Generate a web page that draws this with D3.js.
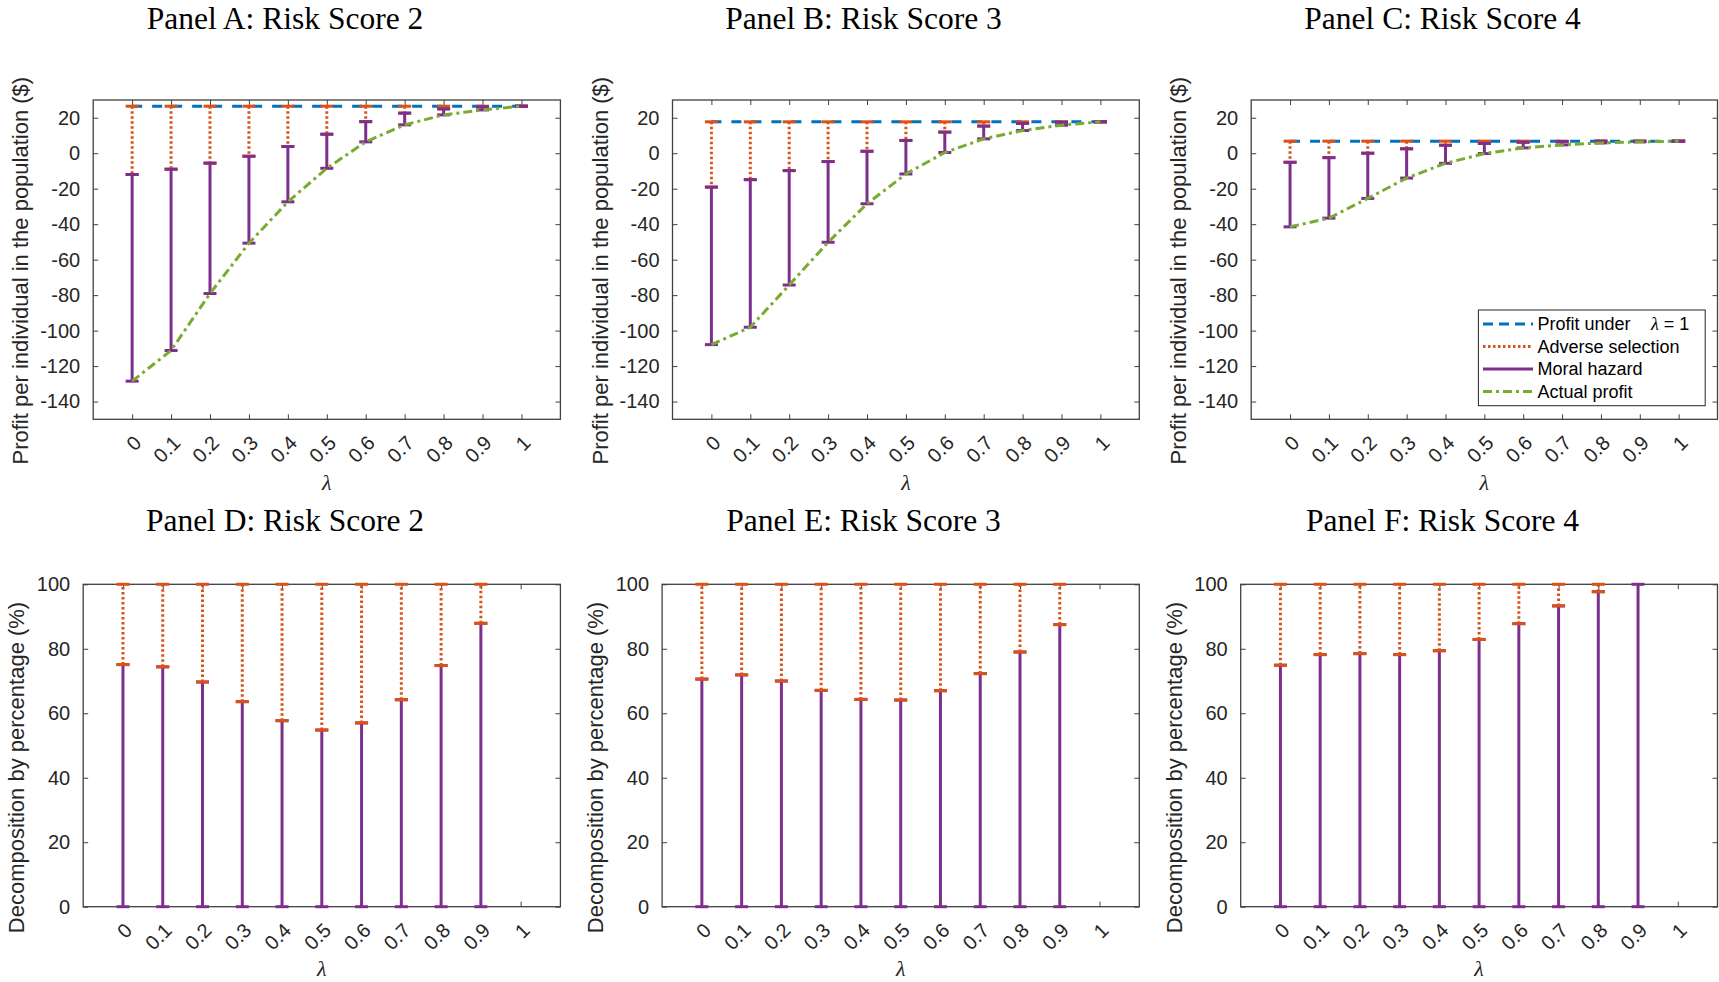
<!DOCTYPE html>
<html>
<head>
<meta charset="utf-8">
<script src="https://cdn.jsdelivr.net/npm/d3@7"></script>
<style>
  body { margin: 0; background: #fff; }
  text { font-family: "Liberation Sans", Arial, sans-serif; fill: #262626; }
  .title { font-family: "Liberation Serif", serif; font-size: 31.5px; fill: #000; }
  .axis-label { font-size: 22px; }
  .lam { font-family: "Liberation Serif", serif; font-style: italic; font-size: 22px; }
  .legend text { font-size: 18px; fill: #000; }
</style>
</head>
<body>
<svg id="chart" width="1719" height="982"></svg>
<script>
// ---- data ----
const lambdas = [0, 0.1, 0.2, 0.3, 0.4, 0.5, 0.6, 0.7, 0.8, 0.9, 1];
const lambdaLabels = ["0", "0.1", "0.2", "0.3", "0.4", "0.5", "0.6", "0.7", "0.8", "0.9", "1"];
const profitTicks = [-140, -120, -100, -80, -60, -40, -20, 0, 20];
const pctTicks = [0, 20, 40, 60, 80, 100];

// profit under lambda = 1 (top of adverse selection bar)
const fullProfitA = 26.5;
const fullProfitB = 17.7;
const fullProfitC = 6.8;
// where adverse selection ends / moral hazard begins
const splitA = [-12.0, -9.0, -5.6, -1.7, 3.8, 10.7, 17.8, 22.6, 25.0, 26.2, 26.5];
const splitB = [-19.1, -14.9, -9.8, -4.7, 1.1, 7.2, 11.9, 15.3, 16.8, 17.5, 17.7];
const splitC = [-5.1, -2.5, 0.0, 2.5, 4.5, 5.5, 6.2, 6.6, 6.8, 6.8, 6.8];
// actual profit
const actualA = [-128.5, -111.2, -79.1, -50.7, -27.4, -8.5, 6.4, 16.0, 21.6, 24.4, 26.5];
const actualB = [-107.9, -98.1, -74.3, -50.2, -28.5, -11.7, 0.4, 8.1, 12.8, 15.8, 17.7];
const actualC = [-41.5, -36.6, -25.5, -14.0, -5.7, -0.2, 3.0, 4.7, 5.8, 6.4, 6.8];

// moral hazard share in percent (rest up to 100 is adverse selection)
const moralPctD = [75.1, 74.4, 69.7, 63.6, 57.7, 54.8, 57.0, 64.2, 74.8, 87.9, null];
const moralPctE = [70.6, 71.9, 70.0, 67.1, 64.3, 64.1, 67.0, 72.3, 79.0, 87.5, null];
const moralPctF = [74.9, 78.2, 78.5, 78.2, 79.4, 82.9, 87.8, 93.3, 97.7, 100, null];

const legendLabels = ["Profit under", "Adverse selection", "Moral hazard", "Actual profit"];

// ---- styles ----
const blue = "#0072BD", orange = "#D95319", purple = "#7E2F8E", green = "#77AC30";
const axisColor = "#404040";

const svg = d3.select("#chart");

const topRow = { top: 100, bottom: 419.3, labelDx: -65, labelDy: 11, lamY: 490 };
const botRow = { top: 584.3, bottom: 906.7, labelDx: -59, labelDy: 22, lamY: 976 };

const panels = [
  { title: "Panel A: Risk Score 2", row: topRow, left: 93.2, right: 560.4, cx: 285, full: fullProfitA, split: splitA, actual: actualA },
  { title: "Panel B: Risk Score 3", row: topRow, left: 672.5, right: 1139.3, cx: 863.5, full: fullProfitB, split: splitB, actual: actualB },
  { title: "Panel C: Risk Score 4", row: topRow, left: 1251.2, right: 1717.5, cx: 1442.6, full: fullProfitC, split: splitC, actual: actualC, legend: true },
  { title: "Panel D: Risk Score 2", row: botRow, left: 83.2, right: 560.4, cx: 285, pct: moralPctD },
  { title: "Panel E: Risk Score 3", row: botRow, left: 662.1, right: 1139.3, cx: 863.5, pct: moralPctE },
  { title: "Panel F: Risk Score 4", row: botRow, left: 1240.7, right: 1717.5, cx: 1442.6, pct: moralPctF }
];

const errorBars = (g, x, y, rows, color, dash) => {
  const bars = g.append("g");
  rows.forEach(r => {
    bars.append("line")
      .attr("x1", x(r.l)).attr("x2", x(r.l))
      .attr("y1", y(r.y0)).attr("y2", y(r.y1))
      .attr("stroke", color).attr("stroke-width", 3)
      .attr("stroke-dasharray", dash);
    [r.y0, r.y1].forEach(v => {
      bars.append("line")
        .attr("x1", x(r.l) - 6.5).attr("x2", x(r.l) + 6.5)
        .attr("y1", y(v)).attr("y2", y(v))
        .attr("stroke", color).attr("stroke-width", 3);
    });
  });
};

panels.forEach(p => {
  const isPct = !!p.pct;
  const top = p.row.top, bottom = p.row.bottom;
  const g = svg.append("g");

  const x = d3.scaleLinear().domain([-0.1, 1.1]).range([p.left, p.right]);
  const y = d3.scaleLinear()
    .domain(isPct ? [0, 100] : [-150, 30])
    .range([bottom, top]);

  // axes, ticks pointing inward on all four sides
  const fix = a => a.attr("font-size", 20).attr("font-family", null).style("color", axisColor)
    .call(s => s.select(".domain").remove());

  g.append("g")
    .attr("transform", `translate(0,${bottom})`)
    .call(d3.axisBottom(x).tickValues(lambdas).tickFormat((d, i) => lambdaLabels[i]).tickSize(-5).tickSizeOuter(0))
    .call(fix)
    .selectAll("text")
    .attr("x", 0).attr("y", 0).attr("dy", "0.35em")
    .attr("text-anchor", "end")
    .attr("transform", "translate(5,20) rotate(-45)")
    .style("fill", "#262626");

  g.append("g")
    .attr("transform", `translate(0,${top})`)
    .call(d3.axisTop(x).tickValues(lambdas).tickFormat("").tickSize(-5).tickSizeOuter(0))
    .call(fix);

  g.append("g")
    .attr("transform", `translate(${p.left},0)`)
    .call(d3.axisLeft(y).tickValues(isPct ? pctTicks : profitTicks).tickFormat(d => String(d))
      .tickSize(-5).tickSizeOuter(0).tickPadding(13))
    .call(fix)
    .selectAll("text").style("fill", "#262626");

  g.append("g")
    .attr("transform", `translate(${p.right},0)`)
    .call(d3.axisRight(y).tickValues(isPct ? pctTicks : profitTicks).tickFormat("").tickSize(-5).tickSizeOuter(0))
    .call(fix);

  g.append("rect")
    .attr("x", p.left).attr("y", top)
    .attr("width", p.right - p.left).attr("height", bottom - top)
    .attr("fill", "none").attr("stroke", axisColor).attr("stroke-width", 1.3);

  // titles and labels
  svg.append("text").attr("class", "title")
    .attr("x", p.cx).attr("y", isPct ? 530.7 : 29.3)
    .attr("text-anchor", "middle")
    .text(p.title);

  svg.append("text").attr("class", "axis-label")
    .attr("transform", `translate(${p.left + p.row.labelDx},${(top + bottom) / 2 + p.row.labelDy}) rotate(-90)`)
    .attr("text-anchor", "middle")
    .text(isPct ? "Decomposition by percentage (%)" : "Profit per individual in the population ($)");

  svg.append("text").attr("class", "lam")
    .attr("x", (p.left + p.right) / 2).attr("y", p.row.lamY)
    .attr("text-anchor", "middle")
    .text("λ");

  if (!isPct) {
    g.append("line")
      .attr("x1", x(0)).attr("x2", x(1))
      .attr("y1", y(p.full)).attr("y2", y(p.full))
      .attr("stroke", blue).attr("stroke-width", 3)
      .attr("stroke-dasharray", "10,10");

    errorBars(g, x, y, lambdas.map((l, i) => ({ l, y0: p.full, y1: p.split[i] })), orange, "2.5,2.5");
    errorBars(g, x, y, lambdas.map((l, i) => ({ l, y0: p.split[i], y1: p.actual[i] })), purple, null);

    const line = d3.line().x((d, i) => x(lambdas[i])).y(d => y(d));
    g.append("path")
      .attr("d", line(p.actual))
      .attr("fill", "none")
      .attr("stroke", green).attr("stroke-width", 3)
      .attr("stroke-dasharray", "9,4,3,4");
  } else {
    const rows = lambdas.map((l, i) => ({ l, v: p.pct[i] })).filter(r => r.v != null);
    errorBars(g, x, y, rows.map(r => ({ l: r.l, y0: 0, y1: r.v })), purple, null);
    errorBars(g, x, y, rows.filter(r => r.v < 100).map(r => ({ l: r.l, y0: r.v, y1: 100 })), orange, "2.5,2.5");
  }

  if (p.legend) {
    const lg = svg.append("g").attr("class", "legend");
    lg.append("rect")
      .attr("x", 1478.4).attr("y", 310)
      .attr("width", 226.8).attr("height", 95.7)
      .attr("fill", "#fff").attr("stroke", "#262626").attr("stroke-width", 1);
    const styles = [
      { color: blue, dash: "10,6" },
      { color: orange, dash: "2.5,2.5" },
      { color: purple, dash: null },
      { color: green, dash: "9,4,3,4" }
    ];
    legendLabels.forEach((lab, i) => {
      const yy = 324 + i * 22.5;
      lg.append("line")
        .attr("x1", 1483).attr("x2", 1533)
        .attr("y1", yy).attr("y2", yy)
        .attr("stroke", styles[i].color).attr("stroke-width", 3)
        .attr("stroke-dasharray", styles[i].dash);
      const t = lg.append("text")
        .attr("x", 1537.5).attr("y", yy).attr("dy", "0.35em")
        .text(lab);
      if (i === 0) {
        t.append("tspan").attr("x", 1651)
          .style("font-family", "'Liberation Serif', serif").style("font-style", "italic")
          .text("λ");
        t.append("tspan").text(" = 1");
      }
    });
  }
});
</script>
</body>
</html>
